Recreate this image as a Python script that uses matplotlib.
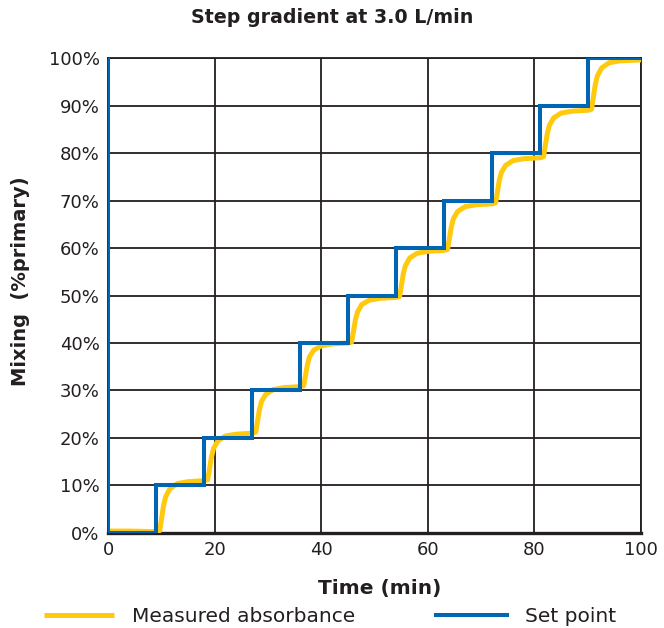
import matplotlib.pyplot as plt
from matplotlib.ticker import PercentFormatter

# set point (%primary) vs time (min)
set_t = [0, 0, 9, 9, 18, 18, 27, 27, 36, 36, 45, 45, 54, 54, 63, 63, 72, 72, 81, 81, 90, 90, 100]
set_y = [100, 0, 0, 10, 10, 20, 20, 30, 30, 40, 40, 50, 50, 60, 60, 70, 70, 80, 80, 90, 90, 100, 100]

# measured absorbance
meas_t = [0, 4, 8,
          9, 9.7, 10.0, 10.4, 10.8, 11.6, 13.0, 15.0, 17.9,
          18, 18.7, 19.0, 19.4, 19.8, 20.6, 22.0, 24.0, 26.9,
          27, 27.7, 28.0, 28.4, 28.8, 29.6, 31.0, 33.0, 35.9,
          36, 36.7, 37.0, 37.4, 37.8, 38.6, 40.0, 42.0, 44.9,
          45, 45.7, 46.0, 46.4, 46.8, 47.6, 49.0, 51.0, 53.9,
          54, 54.7, 55.0, 55.4, 55.8, 56.6, 58.0, 60.0, 62.9,
          63, 63.7, 64.0, 64.4, 64.8, 65.6, 67.0, 69.0, 71.9,
          72, 72.7, 73.0, 73.4, 73.8, 74.6, 76.0, 78.0, 80.9,
          81, 81.7, 82.0, 82.4, 82.8, 83.6, 85.0, 87.0, 89.9,
          90, 90.7, 91.0, 91.4, 91.8, 92.6, 94.0, 96.0, 100]
meas_y = [0.4, 0.4, 0.3,
          0.3, 0.5, 2.7, 5.7, 7.6, 9.3, 10.4, 10.8, 11.0,
          11.0, 11.2, 13.2, 16.0, 17.8, 19.4, 20.4, 20.8, 21.0,
          21.0, 21.2, 23.2, 25.9, 27.7, 29.2, 30.2, 30.6, 30.8,
          30.8, 31.0, 32.8, 35.4, 37.1, 38.5, 39.4, 39.8, 40.0,
          40.0, 40.2, 42.1, 44.8, 46.5, 48.1, 49.0, 49.4, 49.6,
          49.6, 49.8, 51.8, 54.6, 56.3, 57.9, 58.9, 59.3, 59.5,
          59.5, 59.7, 61.7, 64.4, 66.2, 67.7, 68.7, 69.1, 69.3,
          69.3, 69.5, 71.4, 74.2, 75.9, 77.4, 78.4, 78.8, 79.0,
          79.0, 79.2, 81.2, 84.0, 85.8, 87.4, 88.4, 88.8, 89.0,
          89.0, 89.2, 91.3, 94.3, 96.2, 97.9, 99.0, 99.4, 99.6]

ink = '#231F20'

fig = plt.figure(figsize=(6.64, 6.28), dpi=100)
ax = fig.add_axes([0.1627, 0.1513, 0.8027, 0.7563])

ax.plot(meas_t, meas_y, color='#FFC90E', lw=3.6, label='Measured absorbance',
        solid_capstyle='butt', solid_joinstyle='round', zorder=3)
ax.plot(set_t, set_y, color='#0066B3', lw=2.9, label='Set point',
        solid_joinstyle='miter', zorder=4)

ax.set_xlim(0, 100)
ax.set_ylim(0, 100)
ax.set_xticks(range(0, 101, 20))
ax.set_yticks(range(0, 101, 10))
ax.yaxis.set_major_formatter(PercentFormatter(decimals=0))
ax.tick_params(length=0, labelsize=13, colors=ink, pad=6)
ax.grid(True, color=ink, lw=1.3)
for s in ax.spines.values():
    s.set_color(ink)
    s.set_linewidth(1.3)
ax.spines['bottom'].set_linewidth(2.4)
ax.set_axisbelow(True)

ax.set_xlabel('Time (min)', fontsize=14.5, fontweight='bold', color=ink)
ax.xaxis.set_label_coords(0.509, -0.097)
ax.set_ylabel('Mixing  (%primary)', fontsize=14, fontweight='bold', color=ink, va='center')
ax.yaxis.set_label_coords(-0.165, 0.53)
fig.text(0.501, 0.972, 'Step gradient at 3.0 L/min', ha='center', va='center',
         fontsize=13.7, fontweight='bold', color=ink)

fig.legend(loc='center left', bbox_to_anchor=(0.066, 0.019), ncol=2, frameon=False,
           fontsize=14.5, handlelength=3.5, handletextpad=0.9, columnspacing=4.0,
           labelcolor=ink, borderpad=0, borderaxespad=0)

fig.savefig('out.png', dpi=100)
